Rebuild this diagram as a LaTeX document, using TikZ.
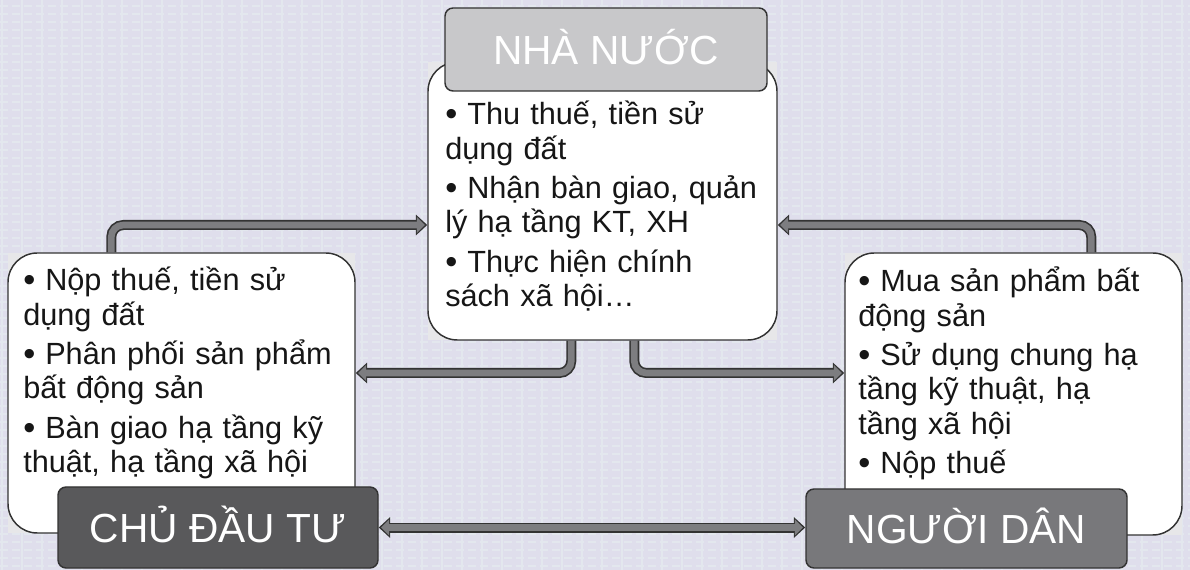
\documentclass[tikz,border=0pt]{standalone}
\usepackage{fontspec}
\setmainfont{Liberation Sans}
\usetikzlibrary{arrows.meta,calc,fit}
\definecolor{paper}{HTML}{DFDEEC}
\definecolor{paperline}{HTML}{E3E7EE}
\definecolor{edge}{HTML}{333333}
\definecolor{ink}{HTML}{161616}
\definecolor{hdrlight}{HTML}{C8C8CA}
\definecolor{hdrdark}{HTML}{59595B}
\definecolor{hdrmid}{HTML}{78787B}
\definecolor{shaft}{HTML}{7D7D80}
\definecolor{corner}{HTML}{E7E7E9}
\newcommand{\bitem}[1]{\hangindent=16.5pt\hangafter=1\noindent\makebox[16.5pt][l]{\raisebox{-0.3pt}{\scalebox{1.12}{\textbullet}}}#1\par}
\tikzstyle{listbox}=[draw=edge,fill=white,line width=1.1pt,rounded corners=22pt,inner sep=0pt]
\tikzstyle{hdrbox}=[draw=edge,line width=1.1pt,rounded corners=6pt,inner sep=0pt,text=white,font=\fontsize{30.5}{36}\selectfont,text height=21.8pt,text depth=0pt]
\tikzstyle{bullets}=[anchor=base west,inner sep=0pt,text width=260pt,align=left,text=ink,font=\fontsize{23}{25.6}\selectfont,execute at begin node={\setlength{\parskip}{4.2pt}}]
\tikzstyle{conn}=[draw=edge,line width=7.5pt,rounded corners=9pt,-{Triangle[length=8.5pt,width=15pt]},postaction={draw=shaft,line width=5pt,shorten >=1.8pt,-{Triangle[length=6pt,width=11.5pt]}}]
\tikzstyle{connboth}=[draw=edge,line width=7.5pt,{Triangle[length=8.5pt,width=15pt]}-{Triangle[length=8.5pt,width=15pt]},postaction={draw=shaft,line width=5pt,shorten >=1.8pt,shorten <=1.8pt,{Triangle[length=6pt,width=11.5pt]}-{Triangle[length=6pt,width=11.5pt]}}]
\begin{document}
\begin{tikzpicture}[x=0.75pt,y=-0.75pt]
  \useasboundingbox (0,0) rectangle (1190,570);
  \fill[paper] (0,0) rectangle (1190,570);
  \foreach \x in {2,22,...,1190}
    \draw[paperline,line width=1.2pt] (\x,0) -- (\x,570);
  \foreach \y in {6,14,...,570}
    \draw[paperline,line width=0.9pt,dash pattern=on 6pt off 3pt] (0,\y) -- (1190,\y);

  \fill[corner] (428,62) rectangle (777,340);
  \fill[corner] (8,253) rectangle (355,533);
  \fill[corner] (845,253) rectangle (1182,535);

  \node[listbox,fit={(428,62) (777,340)}] (cbox) {};
  \node[listbox,fit={(8,253) (355,533)}] (lbox) {};
  \node[listbox,fit={(845,253) (1182,535)}] (rbox) {};

  \node[hdrbox,fill=hdrlight,minimum width=241.5pt,minimum height=62.25pt] (nn) at (606,49.5) {NHÀ NƯỚC};
  \node[hdrbox,fill=hdrdark,minimum width=240pt,minimum height=60.75pt] (cdt) at (218,527.5) {CHỦ ĐẦU TƯ};
  \node[hdrbox,fill=hdrmid,minimum width=240.75pt,minimum height=59.25pt] (nd) at (966.5,528.5) {NGƯỜI DÂN};

  \node[bullets] (ctext) at (445,125) {\bitem{Thu thuế, tiền sử\\dụng đất}\bitem{Nhận bàn giao, quản\\lý hạ tầng KT, XH}\bitem{Thực hiện chính\\sách xã hội…}};
  \node[bullets] (ltext) at (23,291) {\bitem{Nộp thuế, tiền sử\\dụng đất}\bitem{Phân phối sản phẩm\\bất động sản}\bitem{Bàn giao hạ tầng kỹ\\thuật, hạ tầng xã hội}};
  \node[bullets] (rtext) at (858,292) {\bitem{Mua sản phẩm bất\\động sản}\bitem{Sử dụng chung hạ\\tầng kỹ thuật, hạ\\tầng xã hội}\bitem{Nộp thuế}};

  \draw[conn] ($(lbox.north west)+(104,0)$) |- ($(cbox.west)+(0,24)$);
  \draw[conn] ($(rbox.north west)+(247,0)$) |- ($(cbox.east)+(0,24)$);
  \draw[conn] ($(cbox.south west)+(144,0)$) |- ($(lbox.east)+(0,-20)$);
  \draw[conn] ($(cbox.south west)+(207,0)$) |- ($(rbox.west)+(0,-21)$);
  \draw[connboth] (cdt.east) -- (cdt.east -| nd.west);
\end{tikzpicture}
\end{document}
